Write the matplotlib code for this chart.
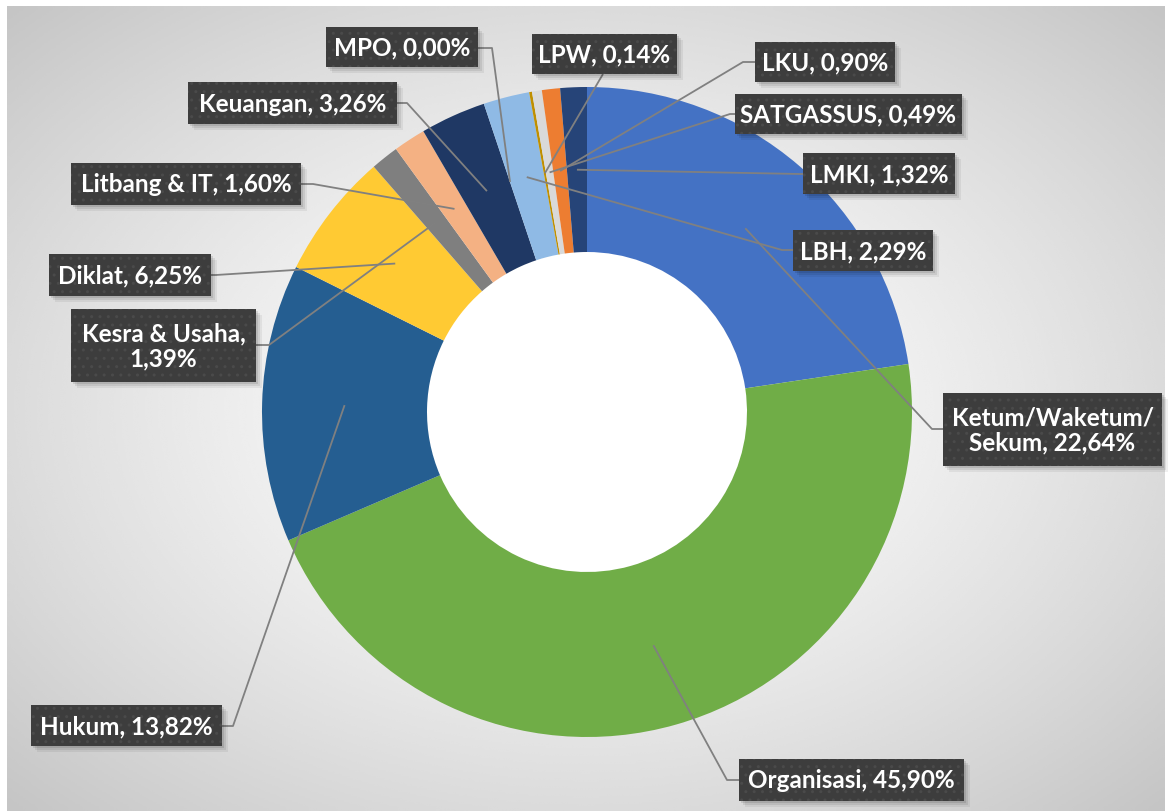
import matplotlib

matplotlib.use("Agg")
import matplotlib.pyplot as plt  # noqa: E402
import numpy as np  # noqa: E402
from matplotlib.patches import Rectangle  # noqa: E402

W, H = 1168, 812

# data (clockwise from 12 o'clock)
names = ["Ketum/Waketum/\nSekum", "Organisasi", "Hukum", "Diklat", "Kesra & Usaha",
         "Litbang & IT", "Keuangan", "MPO", "LBH", "LPW", "SATGASSUS", "LKU", "LMKI"]
seps = [", ", ", ", ", ", ", ", ",\n", ", ", ", ", ", ", ", ", ", ", ", ", ", ", ", "]
values = [22.64, 45.90, 13.82, 6.25, 1.39, 1.60, 3.26, 0.00, 2.29, 0.14, 0.49, 0.90, 1.32]
colors = ["#4472C4", "#70AD47", "#255E91", "#FFCA33", "#7F7F7F", "#F4B183", "#1F3864",
          "#A5A5A5", "#8FBAE5", "#BF8F00", "#D9D9D9", "#ED7D31", "#264478"]

# label boxes in pixel coords (x0, y0, x1, y1), attach point and elbow point
boxes = [(943, 394, 1162, 467), (739, 760, 964, 802), (31, 706, 222, 747),
         (49, 255, 211, 297), (71, 310, 256, 383), (71, 164, 301, 206),
         (188, 83, 397, 125), (326, 28, 478, 68), (793, 231, 933, 272),
         (532, 35, 677, 75), (735, 95, 962, 135), (755, 43, 895, 83),
         (803, 154, 955, 195)]
attach = [(943, 430), (739, 781), (222, 727), (211, 276), (256, 346), (301, 185),
          (397, 104), (478, 49), (793, 251), (603, 75), (735, 115), (755, 63),
          (803, 175)]
elbow = [(932, 430), (727, 781), (233, 727), (216, 276), (269, 346), (313, 185),
         (407, 104), (492, 49), (782, 251), (603, 75), (730, 115), (743, 63),
         (800, 175)]

CX, CY, R_OUT, R_IN = 587, 413, 325, 160


def P(x, y):
    """pixel (top-left origin) -> data coords (y up)"""
    return x, H - y


fig = plt.figure(figsize=(W / 100, H / 100), dpi=100, facecolor="white")

# radial gray background
bg = fig.add_axes([7 / W, 0, (1165 - 7) / W, (H - 7) / H])
yy, xx = np.mgrid[-1:1:400j, -1:1:600j]
rr = np.sqrt(xx ** 2 + yy ** 2) / np.sqrt(2)
shade = 1.0 - 0.23 * rr ** 1.4
bg.imshow(shade, cmap="gray", vmin=0, vmax=1, aspect="auto", interpolation="bicubic")
bg.axis("off")

ax = fig.add_axes([0, 0, 1, 1])
ax.patch.set_alpha(0)
cx, cy = P(CX, CY)
ax.pie(values, colors=colors, startangle=90, counterclock=False, radius=R_OUT,
       center=(cx, cy), wedgeprops=dict(width=R_OUT - R_IN, linewidth=0))
ax.add_patch(plt.Circle((cx, cy), R_IN, color="white", zorder=0.5))
ax.set_xlim(0, W)
ax.set_ylim(0, H)
ax.set_aspect("auto")
ax.axis("off")

total = sum(values)
cum = np.cumsum([0] + values[:-1])
r_mid = (R_OUT + R_IN) / 2
for i, v in enumerate(values):
    frac = (cum[i] + v / 2) / total
    ang = np.deg2rad(90 - 360 * frac)
    ax_, ay_ = cx + r_mid * np.cos(ang), cy + r_mid * np.sin(ang)
    ex, ey = P(*elbow[i])
    tx, ty = P(*attach[i])
    ax.plot([ax_, ex, tx], [ay_, ey, ty], color="#808080", lw=1.3, zorder=3,
            solid_capstyle="butt")

    x0, y0, x1, y1 = boxes[i]
    for k, a in enumerate([0.10, 0.08, 0.06]):
        d = 2 + 2 * k
        ax.add_patch(Rectangle((x0 + d, H - y1 - d), x1 - x0, y1 - y0,
                               facecolor="black", alpha=a, lw=0, zorder=4))
    ax.add_patch(Rectangle((x0, H - y1), x1 - x0, y1 - y0, facecolor="#3D3D3D",
                           edgecolor="#4A4A4A", hatch="..", lw=0, zorder=5))
    txt = f"{names[i]}{seps[i]}{v:.2f}%".replace(".", ",")
    ax.text((x0 + x1) / 2, H - (y0 + y1) / 2, txt, ha="center", va="center",
            color="white", fontsize=17.5, fontweight="bold", family="Lato",
            linespacing=1.1, zorder=6)

fig.savefig("out.png", dpi=100, facecolor="white")
